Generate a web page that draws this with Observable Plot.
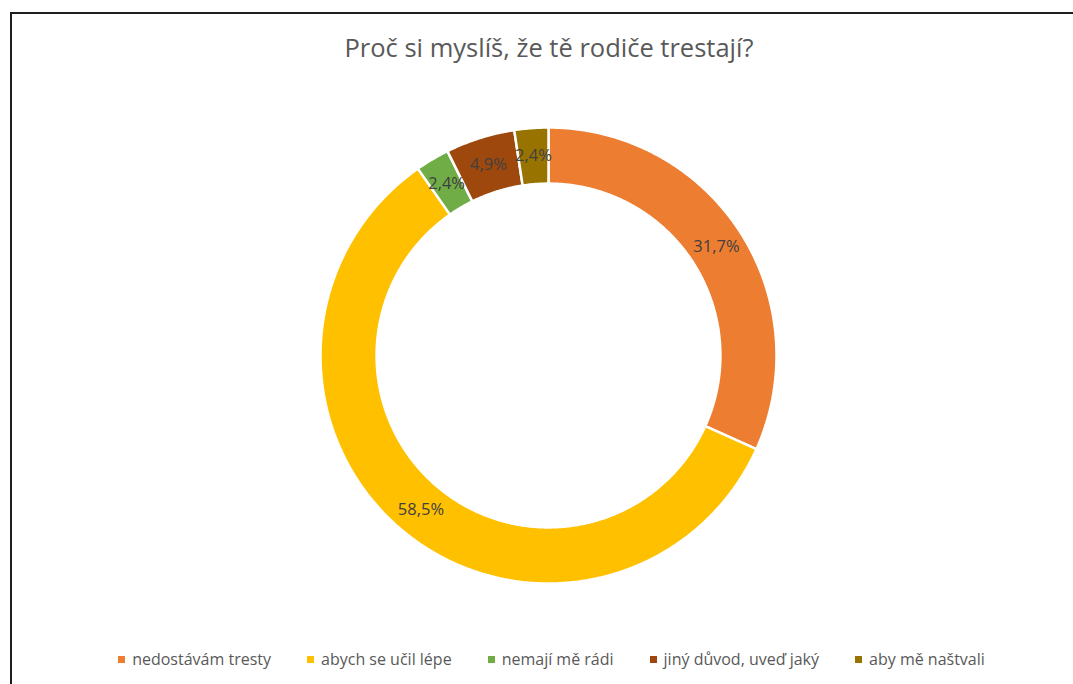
<!DOCTYPE html>
<html>
<head>
<meta charset="utf-8">
<script src="https://cdn.jsdelivr.net/npm/d3@7"></script>
<script src="https://cdn.jsdelivr.net/npm/@observablehq/plot@0.6"></script>
<style>
  html, body { margin: 0; padding: 0; background: #fff; width: 1073px; height: 684px; overflow: hidden; }
  #frame { position: absolute; left: 10px; top: 12px; width: 1100px; height: 720px; border: 2px solid #1e1e1e; box-sizing: border-box; }
  #title { position: absolute; left: 0; width: 1098px; top: 30px; text-align: center; font-family: "Open Sans", sans-serif; font-size: 25.5px; line-height: 34px; color: #595959; }
  #chart { position: absolute; left: 0; top: 100px; }
  #legend { position: absolute; left: 0; width: 1103px; top: 648px; display: flex; justify-content: center; gap: 36px; font-family: "Open Sans", sans-serif; font-size: 16px; line-height: 22px; color: #595959; }
  .item { display: flex; align-items: center; }
  .sw { width: 7px; height: 7px; margin-right: 7px; }
</style>
</head>
<body>
<div id="frame"></div>
<div id="title">Proč si myslíš, že tě rodiče trestají?</div>
<div id="chart"></div>
<div id="legend"></div>
<script>
const categories = ["nedostávám tresty", "abych se učil lépe", "nemají mě rádi", "jiný důvod, uveď jaký", "aby mě naštvali"];
const values = [31.7, 58.5, 2.4, 4.9, 2.4];
const colors = ["#ED7D31", "#FFC000", "#70AD47", "#9E480E", "#997300"];
const labels = ["31,7%", "58,5%", "2,4%", "4,9%", "2,4%"];

const inner = 0.754;
const total = d3.sum(values);
const slicePts = [];
const labelPts = [];
let cum = 0;
values.forEach((v, i) => {
  const a0 = cum / total * 2 * Math.PI;
  cum += v;
  const a1 = cum / total * 2 * Math.PI;
  const n = Math.max(2, Math.ceil((a1 - a0) / (Math.PI / 360)));
  const outerArc = d3.range(n + 1).map(k => a0 + (a1 - a0) * k / n);
  outerArc.forEach(a => slicePts.push({cat: categories[i], x: Math.sin(a), y: Math.cos(a)}));
  outerArc.slice().reverse().forEach(a => slicePts.push({cat: categories[i], x: inner * Math.sin(a), y: inner * Math.cos(a)}));
  slicePts.push({cat: categories[i], x: Math.sin(a0), y: Math.cos(a0)});
  const am = (a0 + a1) / 2, rm = (1 + inner) / 2;
  labelPts.push({text: labels[i], x: rm * Math.sin(am), y: rm * Math.cos(am)});
});

const plot = Plot.plot({
  width: 1073,
  height: 510,
  marginLeft: 320,
  marginRight: 297,
  marginTop: 27,
  marginBottom: 27,
  x: {domain: [-1, 1], axis: null},
  y: {domain: [-1, 1], axis: null},
  color: {type: "ordinal", domain: categories, range: colors},
  marks: [
    Plot.line(slicePts, {x: "x", y: "y", z: "cat", fill: "cat", stroke: "white", strokeWidth: 2.5, strokeLinejoin: "miter"}),
    Plot.text(labelPts, {x: "x", y: "y", text: "text", fill: "#404040", fontSize: 16.5, fontFamily: "Open Sans, sans-serif"})
  ]
});
document.getElementById("chart").appendChild(plot);

const legend = document.getElementById("legend");
categories.forEach((c, i) => {
  const it = document.createElement("div");
  it.className = "item";
  const sw = document.createElement("div");
  sw.className = "sw";
  sw.style.background = colors[i];
  const t = document.createElement("span");
  t.textContent = c;
  it.appendChild(sw);
  it.appendChild(t);
  legend.appendChild(it);
});
</script>
</body>
</html>
